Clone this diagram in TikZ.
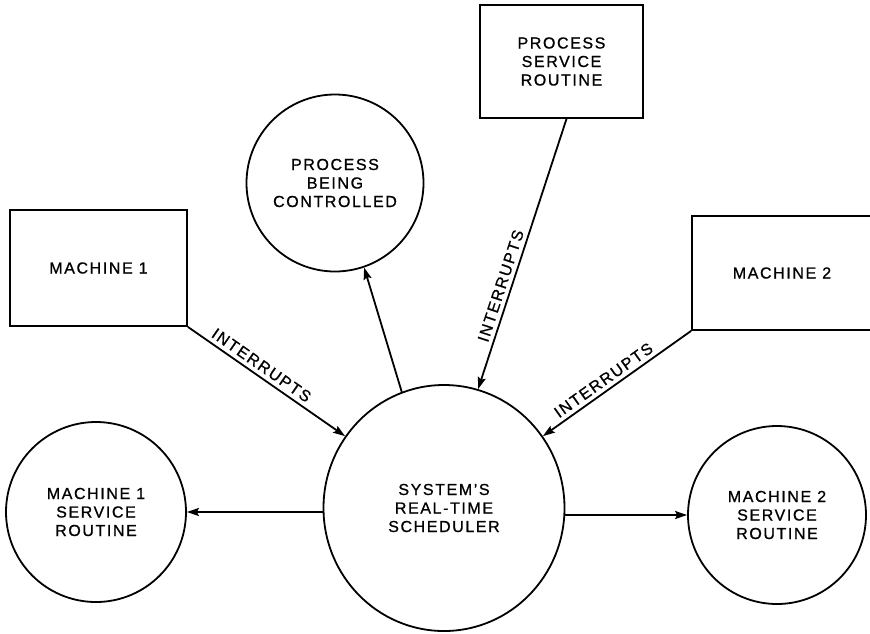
\documentclass[tikz,border=0pt]{standalone}
\usepackage{fontspec}
\setmainfont{Liberation Sans}[LetterSpace=10,FakeBold=0.9]
\usetikzlibrary{arrows.meta,shapes.geometric}
\begin{document}
\begin{tikzpicture}[x=1pt,y=-1pt,
  lbl/.style={font=\fontsize{16}{18.5}\selectfont, align=center},
  box/.style={draw, rectangle, line width=1.8pt, lbl},
  disc/.style={draw, circle, line width=1.8pt, lbl, inner sep=0pt},
  conn/.style={line width=1.8pt, -{Stealth[length=12pt,width=8pt,inset=2pt]}},
  tag/.style={font=\fontsize{16}{18.5}\selectfont, sloped, above, inner sep=4pt}
]
\useasboundingbox (0,0) rectangle (870,633);
\clip (0,0) rectangle (870,633);

\node[box, minimum width=177pt, minimum height=116pt] (m1) at (98.5,268) {MACHINE 1};
\node[box, minimum width=163pt, minimum height=113pt] (psr) at (561.5,61.5) {PROCESS\\SERVICE\\ROUTINE};
\node[box, minimum width=180pt, minimum height=114pt] (m2) at (782,273) {MACHINE 2};

\node[disc, minimum size=177pt] (pbc) at (335,183) {PROCESS\\BEING\\CONTROLLED};
\node[draw, ellipse, line width=1.8pt, lbl, inner sep=0pt, minimum width=241pt, minimum height=246pt] (sched) at (444,508) {SYSTEM'S\\REAL-TIME\\SCHEDULER};
\node[disc, minimum size=180pt] (m1sr) at (96,512) {MACHINE 1\\SERVICE\\ROUTINE};
\node[disc, minimum size=178pt] (m2sr) at (777,515) {MACHINE 2\\SERVICE\\ROUTINE};

\draw[conn] (m1.south east) -- node[tag, pos=0.43] {INTERRUPTS} (sched.144);
\draw[conn] ([xshift=5pt]psr.south) -- node[tag, pos=0.63] {INTERRUPTS} (sched.74);
\draw[conn] (m2.south west) -- node[tag, pos=0.55] {INTERRUPTS} (sched.36);
\draw[conn] (sched.110) -- (pbc.-71);
\draw[conn] (sched.west |- m1sr.east) -- (m1sr.east);
\draw[conn] (sched.east |- m2sr.west) -- (m2sr.west);
\end{tikzpicture}
\end{document}
